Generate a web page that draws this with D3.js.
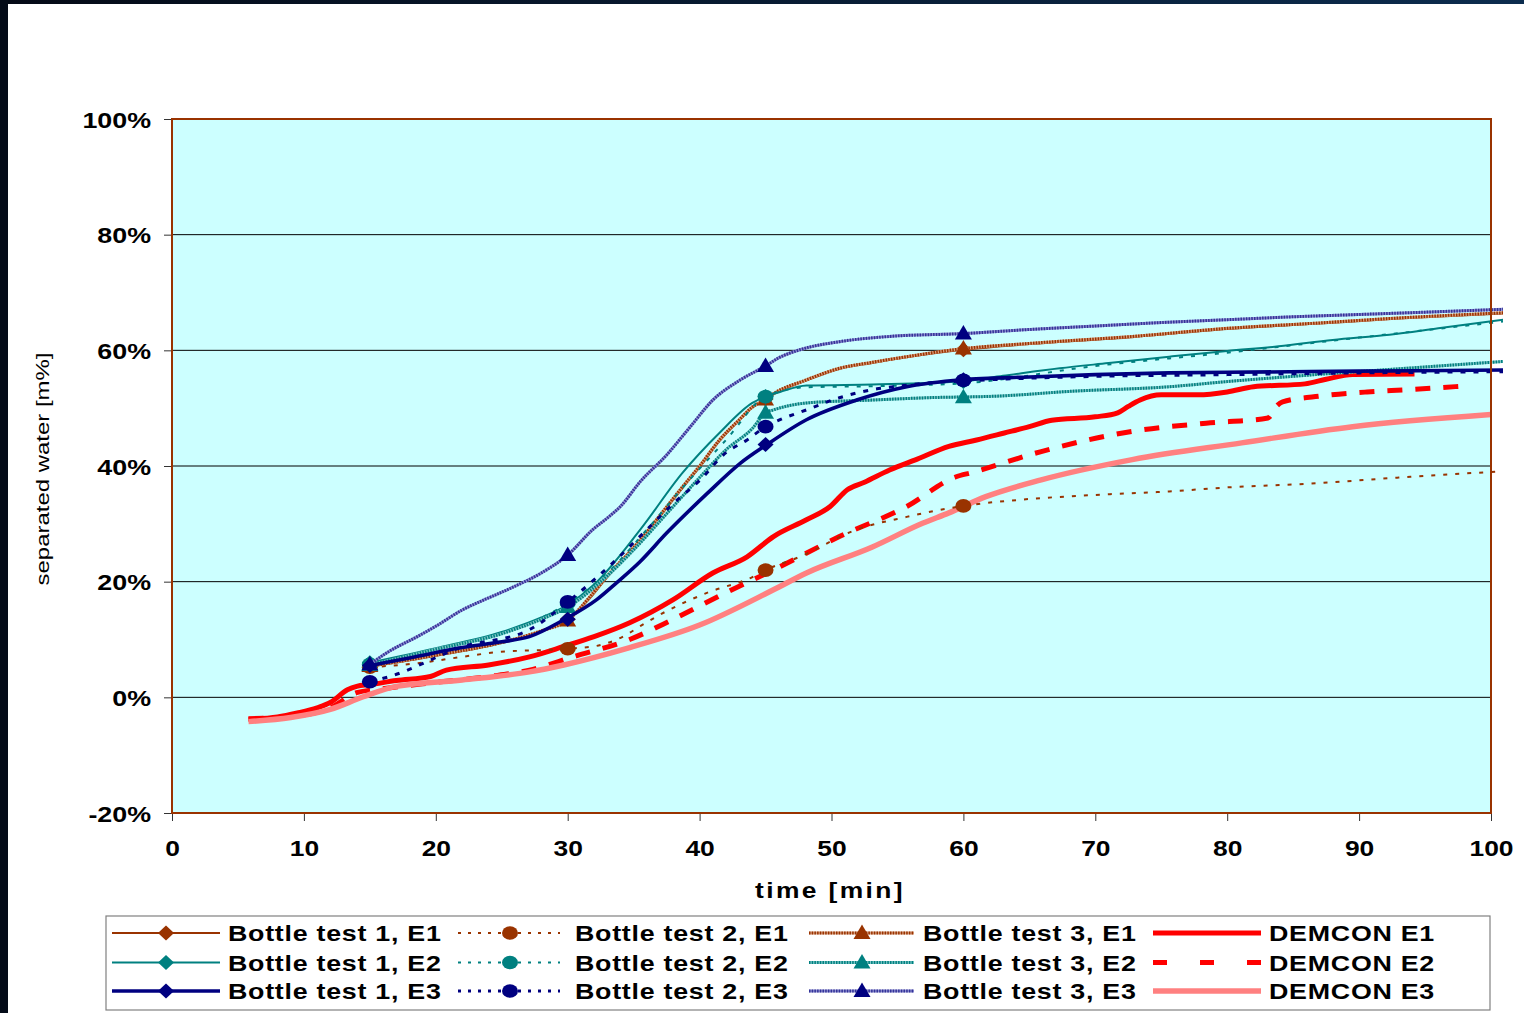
<!DOCTYPE html>
<html>
<head>
<meta charset="utf-8">
<script src="https://cdn.jsdelivr.net/npm/d3@7"></script>
<style>
  html, body { margin: 0; padding: 0; background: #ffffff; }
  svg { display: block; }
  text { font-family: "Liberation Sans", Arial, sans-serif; fill: #000; }
</style>
</head>
<body>
<svg id="chart" width="1524" height="1013"></svg>
<script>
// ---- data: time [min] and separated water [%] per series ----
const xTicks = [0, 10, 20, 30, 40, 50, 60, 70, 80, 90, 100];
const yTicks = [-20, 0, 20, 40, 60, 80, 100];

const tBT1E1 = [15, 20, 25, 28, 30, 31.5, 33, 35.5, 37, 38.7, 40, 41.5, 43, 44, 45, 45.6, 48.1, 50.6, 53, 55.7, 60, 65, 72.8, 80, 86.7, 93, 101];
const vBT1E1 = [5.3, 7.2, 9.4, 11.4, 13.5, 16.7, 20.8, 27, 31.3, 36.2, 39.8, 44.3, 47.9, 50.1, 51.6, 52.4, 54.8, 56.8, 57.8, 58.8, 60.1, 61.1, 62.3, 63.7, 64.6, 65.5, 66.4];

const tBT2E1 = [15, 18.6, 22, 24.6, 30, 32.2, 34.2, 35.5, 37, 40.6, 44, 45, 47.6, 51.9, 55.7, 60, 64.5, 70, 75.6, 80, 86.7, 93, 101];
const vBT2E1 = [5.2, 5.9, 7, 7.8, 8.4, 8.9, 10.5, 12.3, 14.3, 18.1, 20.8, 22, 24.3, 29, 31.2, 33.1, 34.2, 35, 35.6, 36.3, 37, 38, 39.1];

const tBT3E1 = [15, 20, 25, 28, 30, 31.5, 33, 35.5, 37, 38.7, 40, 41.5, 43, 44, 45, 45.6, 48.1, 50.6, 53, 55.7, 60, 65, 72.8, 80, 86.7, 93, 101];
const vBT3E1 = [5.4, 7.3, 9.5, 11.5, 13.3, 16.9, 21, 27.2, 31.5, 36.4, 40, 44.5, 48, 50.2, 51.5, 52.5, 54.9, 56.9, 57.9, 58.9, 60.3, 61.2, 62.4, 63.8, 64.7, 65.6, 66.5];

const tBT1E2 = [15, 20, 25, 28, 30, 32, 35.5, 38.7, 41.5, 44, 45, 46.1, 48.1, 53.1, 59.7, 63, 67.3, 71, 75.6, 80, 83.9, 88, 92.3, 96, 101];
const vBT1E2 = [6, 8.5, 11.3, 13.8, 16, 19.5, 29, 38.8, 45.7, 50.9, 52, 52.8, 53.9, 54.1, 54.6, 55.6, 56.9, 57.8, 58.9, 59.9, 60.7, 61.8, 62.7, 63.8, 65.3];

const tBT2E2 = [15, 20, 25, 30, 33, 36, 39, 42, 45, 48, 53, 60, 70, 80, 90, 101];
const vBT2E2 = [5.7, 8.2, 11, 16.3, 21.5, 29, 37, 44.5, 52, 53.6, 53.8, 54.3, 57.3, 59.6, 62.2, 65];

const tBT3E2 = [15, 20, 25, 28, 30, 33, 35, 38, 40, 42, 44, 45, 45.6, 48.1, 53.1, 57.2, 62.8, 68, 75.6, 80, 86.7, 93, 101];
const vBT3E2 = [5.6, 8.3, 11, 13.5, 15.6, 21, 25.5, 33, 38, 42.8, 46.5, 49.2, 49.7, 50.9, 51.4, 51.8, 52.1, 52.9, 53.7, 54.6, 55.8, 56.8, 58.1];

const tBT1E3 = [15, 18, 22, 25, 27.1, 29.7, 32.2, 33.7, 35.5, 37.5, 40.6, 43.1, 45.1, 48.1, 51.9, 55.7, 59.9, 65, 70, 75.6, 80, 90, 101];
const vBT1E3 = [5.5, 6.8, 8.6, 9.6, 10.5, 13.4, 16.9, 19.8, 23.5, 28.4, 35.3, 40.5, 43.7, 48, 51.4, 53.7, 54.9, 55.4, 55.8, 56.1, 56.2, 56.4, 56.6];

const tBT2E3 = [15, 16.5, 22, 27.1, 30, 33.4, 36, 38, 40, 42, 43.6, 45, 46.1, 48.1, 50.6, 53.1, 54.7, 57, 60, 70, 80, 90, 101];
const vBT2E3 = [2.7, 3.6, 8.7, 11.7, 16.5, 23.2, 29, 33.5, 37.5, 42.3, 44.5, 46.8, 48, 49.7, 51.8, 53.2, 53.7, 54.3, 54.7, 55.5, 55.8, 56.1, 56.3];

const tBT3E3 = [15, 16.5, 18.6, 20, 22, 24, 25.9, 28, 30, 31.9, 33, 34, 35.5, 37.5, 39.3, 41, 43.1, 45, 46, 47.6, 50.6, 54.4, 60, 65, 70, 75, 80, 85, 90, 95, 101];
const vBT3E3 = [5.7, 8, 10.5, 12.3, 15.1, 17.2, 19.1, 21.5, 24.6, 29, 31, 33, 37.3, 41.9, 46.8, 51.4, 54.9, 57.3, 58.7, 60.1, 61.5, 62.4, 62.9, 63.6, 64.2, 64.8, 65.3, 65.8, 66.2, 66.6, 67.1];

const tDemE1 = [5.8, 8, 9.5, 11, 12, 13.3, 14, 15, 17, 19.6, 20.8, 24, 27.1, 29.7, 32, 34.7, 38, 41, 43.6, 45.6, 48.1, 49.9, 51.2, 52.5, 54.4, 56.5, 58.9, 61, 63.1, 65, 66.7, 70, 71.7, 72.5, 73.4, 75, 77.8, 80, 82, 85.9, 87.5, 89.5, 94.2];
const vDemE1 = [-3.8, -3.4, -2.7, -1.8, -0.9, 1.3, 1.9, 2.2, 2.9, 3.6, 4.7, 5.6, 7, 8.8, 10.5, 12.9, 16.9, 21.5, 24.3, 27.8, 30.7, 33, 35.9, 37.2, 39.3, 41.2, 43.4, 44.5, 45.7, 46.8, 47.9, 48.5, 49.2, 50.3, 51.4, 52.3, 52.3, 52.8, 53.7, 54.2, 55, 55.8, 55.9];

const tDemE2 = [5.8, 9.5, 12, 14, 16, 19.6, 24, 27.1, 30.4, 34.7, 38, 42, 46.1, 50.6, 55.7, 59.4, 60.7, 65.9, 72.8, 78.4, 83.1, 83.6, 84.2, 86.7, 90.6, 93.7, 97.8];
const vDemE2 = [-3.7, -3.2, -1.8, 0.8, 1.5, 2.5, 3.6, 4.7, 7, 10, 13.5, 18.1, 22.6, 27.8, 33, 38.1, 38.9, 42.5, 46, 47.4, 48.3, 50, 51.1, 52, 52.8, 53.2, 53.8];

const tDemE3 = [5.8, 9, 12, 14.5, 17, 22, 27.1, 29.7, 34.7, 40, 45.6, 48.1, 53.1, 56.9, 58.9, 61.7, 65.9, 72.8, 81.1, 89.5, 100];
const vDemE3 = [-4.2, -3.5, -2.1, 0.1, 1.9, 3, 4.4, 5.6, 8.6, 12.5, 18.6, 21.5, 26, 30.1, 31.9, 34.7, 37.6, 41.1, 44, 46.8, 48.9];

// measured bottle-test points (marker positions)
const markerTimes = [15, 30, 45, 60];
const mBT1E1 = [5.3, 13.5, 51.6, 60.1];
const mBT2E1 = [5.2, 8.4, 22, 33.1];
const mBT3E1 = [5.4, 13.3, 51.5, 60.3];
const mBT1E2 = [6, 16, 52, 54.6];
const mBT2E2 = [5.7, 16.3, 52];
const mBT3E2 = [5.6, 15.6, 49.2, 51.9];
const mBT1E3 = [5.5, 13.5, 43.7, 54.9];
const mBT2E3 = [2.7, 16.5, 46.8, 54.8];
const mBT3E3 = [5.7, 24.6, 57.3, 62.9];

const seriesNames = [
  "Bottle test 1, E1", "Bottle test 2, E1", "Bottle test 3, E1", "DEMCON E1",
  "Bottle test 1, E2", "Bottle test 2, E2", "Bottle test 3, E2", "DEMCON E2",
  "Bottle test 1, E3", "Bottle test 2, E3", "Bottle test 3, E3", "DEMCON E3"
];

// ---- styles ----
const BROWN = "#993300", TEAL = "#008080", NAVY = "#000080";
const zip = (ts, vs) => ts.map((t, i) => ({ t, v: vs[i] }));

const series = [
  { name: seriesNames[3],  pts: zip(tDemE1, vDemE1), color: "#ff0000", width: 5 },
  { name: seriesNames[7],  pts: zip(tDemE2, vDemE2), color: "#ff0000", width: 5, dash: "15,13", legendDash: "14,33" },
  { name: seriesNames[11], pts: zip(tDemE3, vDemE3), color: "#ff8080", width: 5.5 },
  { name: seriesNames[0],  pts: zip(tBT1E1, vBT1E1), color: BROWN, width: 2.2, marker: "diamond", m: mBT1E1 },
  { name: seriesNames[1],  pts: zip(tBT2E1, vBT2E1), color: BROWN, width: 2, dash: "4,8", legendDash: "3,7", marker: "circle", m: mBT2E1 },
  { name: seriesNames[2],  pts: zip(tBT3E1, vBT3E1), color: BROWN, under: "#d8a080", width: 3, hatch: true, marker: "triangle", m: mBT3E1 },
  { name: seriesNames[4],  pts: zip(tBT1E2, vBT1E2), color: TEAL, width: 2, marker: "diamond", m: mBT1E2 },
  { name: seriesNames[5],  pts: zip(tBT2E2, vBT2E2), color: TEAL, width: 2, dash: "4,8", legendDash: "3,7", marker: "circle", m: mBT2E2 },
  { name: seriesNames[6],  pts: zip(tBT3E2, vBT3E2), color: TEAL, under: "#80c8c8", width: 3, hatch: true, marker: "triangle", m: mBT3E2 },
  { name: seriesNames[8],  pts: zip(tBT1E3, vBT1E3), color: NAVY, width: 3.6, marker: "diamond", m: mBT1E3 },
  { name: seriesNames[9],  pts: zip(tBT2E3, vBT2E3), color: NAVY, width: 3, dash: "5,8", legendDash: "3,7", marker: "circle", m: mBT2E3 },
  { name: seriesNames[10], pts: zip(tBT3E3, vBT3E3), color: "#333399", under: "#9090d0", width: 3, hatch: true, marker: "triangle", markerColor: NAVY, m: mBT3E3 }
];

// ---- layout ----
const svg = d3.select("#chart");
const x = d3.scaleLinear().domain([0, 100]).range([172, 1491]);
const y = d3.scaleLinear().domain([-20, 100]).range([813, 119]);

// page frame
const defs = svg.append("defs");
const grad = defs.append("linearGradient").attr("id", "topband").attr("x1", 0).attr("x2", 1);
grad.append("stop").attr("offset", 0).attr("stop-color", "#040a16");
grad.append("stop").attr("offset", 1).attr("stop-color", "#0c2c4e");
svg.append("rect").attr("width", 1524).attr("height", 1013).attr("fill", "#ffffff");
svg.append("rect").attr("x", 0).attr("y", 0).attr("width", 1524).attr("height", 4).attr("fill", "url(#topband)");
svg.append("rect").attr("x", 0).attr("y", 0).attr("width", 8).attr("height", 1013).attr("fill", "#040b18");

defs.append("clipPath").attr("id", "plotclip")
  .append("rect").attr("x", 172).attr("y", 100).attr("width", 1331).attr("height", 720);

// plot background
svg.append("rect")
  .attr("x", x(0)).attr("y", y(100))
  .attr("width", x(100) - x(0)).attr("height", y(-20) - y(100))
  .attr("fill", "#ccffff");

// gridlines
svg.append("g").selectAll("line")
  .data(yTicks.filter(d => d > -20 && d < 100))
  .join("line")
  .attr("x1", x(0)).attr("x2", x(100))
  .attr("y1", d => y(d)).attr("y2", d => y(d))
  .attr("stroke", "#000").attr("stroke-width", 1);

// axes
const yAxis = svg.append("g").attr("transform", `translate(${x(0)},0)`)
  .call(d3.axisLeft(y).tickValues(yTicks).tickSize(8).tickFormat(d => d + "%"));
const xAxis = svg.append("g").attr("transform", `translate(0,${y(-20)})`)
  .call(d3.axisBottom(x).tickValues(xTicks).tickSize(8).tickFormat(d3.format("d")));
[yAxis, xAxis].forEach(g => {
  g.select(".domain").remove();
  g.selectAll(".tick line").attr("stroke", "#333").attr("stroke-width", 1);
  g.selectAll(".tick text").attr("font-size", 22).attr("font-weight", "bold")
    .attr("font-family", "'Liberation Sans', Arial, sans-serif").attr("fill", "#000");
});
yAxis.selectAll(".tick text").attr("x", 0).attr("dy", null).attr("y", 8)
  .attr("text-anchor", "end").attr("transform", "translate(-21,0) scale(1.22,1)");
xAxis.selectAll(".tick text").attr("x", 0).attr("dy", null).attr("y", 0)
  .attr("text-anchor", "middle").attr("transform", "translate(0,43) scale(1.2,1)");

// axis titles
svg.append("text")
  .attr("transform", "translate(830,898) scale(1.2,1)")
  .attr("text-anchor", "middle").attr("font-size", 22).attr("font-weight", "bold")
  .attr("letter-spacing", 2)
  .text("time [min]");
svg.append("text")
  .attr("transform", "translate(49,469) rotate(-90)")
  .attr("text-anchor", "middle").attr("font-size", 19)
  .attr("textLength", 233).attr("lengthAdjust", "spacingAndGlyphs")
  .text("separated water [m%]");

// series
const line = d3.line().x(d => x(d.t)).y(d => y(d.v)).curve(d3.curveMonotoneX);
const plot = svg.append("g").attr("clip-path", "url(#plotclip)");

function markerPath(kind) {
  if (kind === "diamond") return "M0,-7.5L8,0L0,7.5L-8,0Z";
  if (kind === "triangle") return "M0,-8.5L8.5,6L-8.5,6Z";
  return null;
}
function drawMarker(g, kind, cx, cy, color) {
  if (kind === "circle") {
    g.append("ellipse").attr("cx", cx).attr("cy", cy).attr("rx", 8).attr("ry", 6.8).attr("fill", color);
  } else {
    g.append("path").attr("d", markerPath(kind)).attr("transform", `translate(${cx},${cy})`).attr("fill", color);
  }
}
function strokeLine(g, s, d) {
  if (s.hatch) {
    g.append("path").attr("d", d).attr("fill", "none").attr("stroke", s.under).attr("stroke-width", s.width);
    g.append("path").attr("d", d).attr("fill", "none").attr("stroke", s.color)
      .attr("stroke-width", s.width).attr("stroke-dasharray", "1.5,1.2");
  } else {
    g.append("path").attr("d", d).attr("fill", "none").attr("stroke", s.color)
      .attr("stroke-width", s.width).attr("stroke-dasharray", s.dash || null)
      .attr("stroke-linejoin", "round");
  }
}

series.forEach(s => {
  const g = plot.append("g");
  strokeLine(g, s, line(s.pts));
  if (s.marker) {
    s.m.forEach((v, i) => drawMarker(g, s.marker, x(markerTimes[i]), y(v), s.markerColor || s.color));
  }
});

// plot frame
svg.append("rect")
  .attr("x", x(0)).attr("y", y(100))
  .attr("width", x(100) - x(0)).attr("height", y(-20) - y(100))
  .attr("fill", "none").attr("stroke", BROWN).attr("stroke-width", 2);

// legend
const legend = svg.append("g");
legend.append("rect").attr("x", 106).attr("y", 916).attr("width", 1384).attr("height", 94)
  .attr("fill", "#ffffff").attr("stroke", "#808080").attr("stroke-width", 1.2);

const legCols = [
  { x1: 112, x2: 220, mx: 166, tx: 228 },
  { x1: 458, x2: 560, mx: 510, tx: 575 },
  { x1: 809, x2: 914, mx: 862, tx: 923 },
  { x1: 1153, x2: 1261, mx: null, tx: 1269 }
];
const legRows = [933, 962.5, 991];
const byName = new Map(series.map(s => [s.name, s]));
seriesNames.forEach((name, i) => {
  const s = byName.get(name);
  const col = legCols[i % 4], ry = legRows[Math.floor(i / 4)];
  const g = legend.append("g");
  const d = `M${col.x1},${ry}L${col.x2},${ry}`;
  strokeLine(g, Object.assign({}, s, { dash: s.legendDash || s.dash }), d);
  if (s.marker) drawMarker(g, s.marker, col.mx, ry, s.markerColor || s.color);
  g.append("text")
    .attr("transform", `translate(${col.tx},${ry + 8}) scale(1.22,1)`)
    .attr("font-size", 22).attr("font-weight", "bold").attr("letter-spacing", 0.6)
    .text(name);
});
</script>
</body>
</html>
